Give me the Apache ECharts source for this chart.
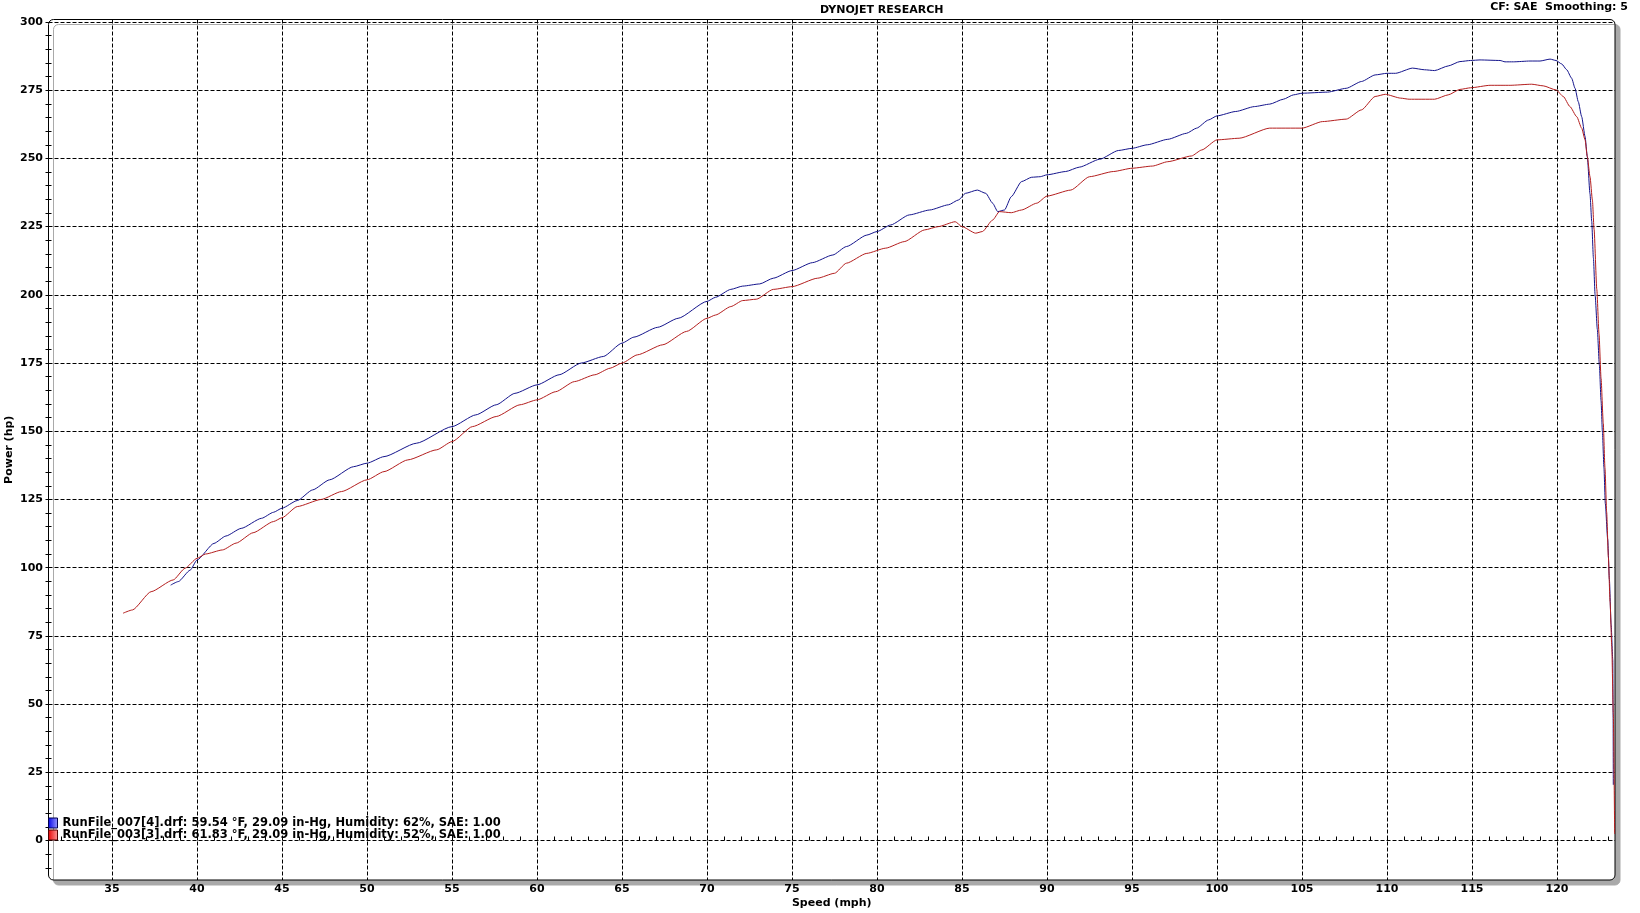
<!DOCTYPE html>
<html>
<head>
<meta charset="utf-8">
<title>Dynojet Research</title>
<script src="https://cdn.jsdelivr.net/npm/echarts@6/dist/echarts.min.js"></script>
<style>
html, body { margin: 0; padding: 0; background: #fff; }
#chart { width: 1640px; height: 913px; }
</style>
</head>
<body>
<div id="chart"></div>
<script>
// run 007 (blue)
var blueSpeed = [38.45, 38.9, 39.6, 40, 41.0, 41.7, 42.6, 43.8, 44.5, 45, 45.9, 46.8, 47.8, 49.2, 50, 51.0, 52.9, 55, 56.4, 57.6,
  58.7, 60, 61.3, 62.6, 63.9, 65, 65.7, 67.1, 68.3, 70, 70.5, 71.4, 72.1, 73.1, 73.9, 75, 76.2, 77.4, 78.2, 79.4,
  80, 80.8, 81.9, 83.1, 84.2, 84.8, 85.2, 85.9, 86.4, 86.8, 87.1, 87.5, 87.9, 88.5, 89.1, 89.6, 90, 91.1, 91.9, 93.1,
  94.2, 95, 95.9, 97.1, 98.2, 98.8, 99.5, 100, 101.1, 102.2, 103.1, 103.9, 104.5, 105, 106.5, 107.6, 108.5, 109.3, 110, 110.5,
  111.5, 112.2, 112.8, 113.6, 114.29, 114.92, 115.47, 116.65, 116.94, 117.43, 118.41, 119.0, 119.59, 119.94, 120.28, 120.57, 120.86, 121.06, 121.25, 121.45,
  121.65, 121.78, 121.94, 122.04, 122.14, 122.24, 122.37, 122.49, 122.59, 122.67, 122.76, 122.84, 122.98, 123.08, 123.18, 123.28, 123.3, 123.31];
var bluePower = [93.6, 94.9, 99.1, 102.8, 108.9, 111.6, 114.4, 118.1, 120.3, 121.8, 124.6, 128.5, 132.2, 137.0, 138.3, 140.7, 145.6, 151.7, 156.0, 159.7,
  163.9, 167, 170.7, 175, 177.4, 182.3, 184.5, 188.1, 191.4, 197.6, 199.1, 202.0, 203.2, 204.0, 206.1, 208.9, 211.8, 214.6, 217.7, 221.9,
  223.2, 225.6, 229.3, 231.1, 233.0, 234.8, 237.2, 238.4, 237.2, 233.6, 230.5, 231.1, 236.0, 241.5, 243.1, 243.3, 244.0, 245.2, 246.8, 249.7,
  252.9, 253.7, 255.0, 257.0, 259.2, 261.1, 264.1, 265.6, 267.2, 269.0, 269.9, 271.7, 273.3, 273.9, 274.3, 275.7, 278.2, 280.6, 281.2, 281.2,
  283.1, 282.5, 282.2, 283.9, 285.5, 285.9, 286.1, 285.9, 285.4, 285.4, 285.7, 285.7, 286.4, 285.9, 284.6, 282.5, 279.4, 275.7, 270.8, 265.3,
  258.0, 250.7, 237, 227, 213.5, 200, 187.4, 174.3, 161.2, 149.7, 136.6, 123.5, 110.4, 95.7, 79.3, 66.2, 45, 20.4];

// run 003 (red)
var redSpeed = [35.65, 36.2, 37.3, 38.6, 39.3, 40.0, 40.5, 41.5, 42.3, 43.3, 44.5, 45, 45.9, 47.3, 48.5, 50, 51.0, 52.4, 54.1, 55,
  56.2, 57.6, 59.0, 60, 61.1, 62.2, 63.4, 64.3, 65, 65.9, 67.4, 68.8, 70, 70.5, 71.4, 72.1, 72.9, 73.9, 75, 76.5,
  77.5, 78.2, 79.4, 80.5, 81.6, 82.8, 83.6, 84.6, 85, 85.8, 86.2, 86.8, 87.2, 87.9, 88.5, 89.4, 90, 91.4, 92.5, 93.9,
  95, 96.2, 97.1, 98.5, 99.1, 100, 101.3, 103.1, 105, 106.2, 107.6, 108.5, 109.3, 109.9, 110.8, 111.3, 112.8, 113.6, 114.29, 114.92,
  116.06, 117.24, 118.51, 119.19, 119.94, 120.37, 120.76, 121.16, 121.45, 121.65, 121.78, 121.94, 122.08, 122.18, 122.34, 122.47, 122.59, 122.72, 122.82, 122.92,
  123.02, 123.12, 123.22, 123.31, 123.39];
var redPower = [83.3, 84.5, 91.2, 95.5, 99.8, 103.4, 105, 106.5, 109, 112.8, 116.9, 118.3, 122.4, 125, 127.9, 132.2, 135.2, 139.5, 143.2, 146.2,
  151.7, 155.4, 159.7, 161.5, 164.5, 168.2, 170.7, 173.1, 175, 178, 181.7, 186.6, 191.4, 192.6, 195.7, 197.9, 198.4, 202.0, 203.0, 206.1,
  207.9, 211.6, 215.2, 217.1, 219.5, 223.8, 225.0, 226.8, 225.0, 222.6, 223.2, 227.4, 230.5, 230.1, 231.1, 233.6, 236.2, 238.4, 243.3, 245.2,
  246.4, 247.2, 248.8, 250.9, 253.1, 256.8, 257.4, 261.1, 261.1, 263.5, 264.4, 267.8, 272.7, 273.5, 272.1, 271.7, 271.7, 273.3, 275.3, 275.9,
  276.8, 276.8, 277.2, 276.6, 275.1, 272.7, 269.0, 265.3, 261.1, 256.8, 250.7, 243.3, 234.8, 224, 202, 185.7, 169.4, 153.0, 136.6, 120.3,
  103.9, 87.5, 71.1, 46.6, 2.4];

var speedLabels = [35, 40, 45, 50, 55, 60, 65, 70, 75, 80, 85, 90, 95, 100, 105, 110, 115, 120];
var speedMinor = [32, 33, 34, 35, 36, 37, 38, 39, 40, 41, 42, 43, 44, 45, 46, 47, 48, 49, 50, 51, 52, 53, 54, 55, 56, 57, 58, 59, 60, 61,
  62, 63, 64, 65, 66, 67, 68, 69, 70, 71, 72, 73, 74, 75, 76, 77, 78, 79, 80, 81, 82, 83, 84, 85, 86, 87, 88, 89, 90, 91,
  92, 93, 94, 95, 96, 97, 98, 99, 100, 101, 102, 103, 104, 105, 106, 107, 108, 109, 110, 111, 112, 113, 114, 115, 116, 117, 118, 119, 120, 121, 122, 123];
var powerLabels = [0, 25, 50, 75, 100, 125, 150, 175, 200, 225, 250, 275, 300];
var powerMinor = [-10, -5, 0, 5, 10, 15, 20, 25, 30, 35, 40, 45, 50, 55, 60, 65, 70, 75, 80, 85, 90, 95, 100, 105, 110, 115, 120, 125, 130, 135,
  140, 145, 150, 155, 160, 165, 170, 175, 180, 185, 190, 195, 200, 205, 210, 215, 220, 225, 230, 235, 240, 245, 250, 255, 260, 265, 270, 275, 280, 285, 290, 295, 300];

var blueName = 'RunFile_007[4].drf: 59.54 °F, 29.09 in-Hg, Humidity: 62%, SAE: 1.00';
var redName = 'RunFile_003[3].drf: 61.83 °F, 29.09 in-Hg, Humidity: 52%, SAE: 1.00';

function pairs(xs, ys) {
  var out = [];
  for (var i = 0; i < xs.length; i++) out.push([xs[i], ys[i]]);
  return out;
}

var FONT = 'DejaVu Sans';
var xMin = 31.265, xMax = 123.41;
var yMin = -14.48, yMax = 300.92;
var gridLine = { show: true, lineStyle: { color: '#000', width: 1, type: [4, 2] } };
var labelFont = { fontFamily: FONT, fontWeight: 'bold', fontSize: 11, color: '#000' };

var myChart = echarts.init(document.getElementById('chart'));
var option = {
  animation: false,
  backgroundColor: '#fff',
  grid: { left: 48.5, top: 19.5, right: 25, bottom: 33, containLabel: false, outerBoundsMode: 'none' },
  graphic: [
    {
      type: 'rect', z: -10, silent: true,
      shape: { x: 48.5, y: 19.5, width: 1566.5, height: 860.5, r: 5 },
      style: { fill: '#fff', stroke: '#000', lineWidth: 1, shadowColor: '#a9a9a9', shadowOffsetX: 5, shadowOffsetY: 5, shadowBlur: 0 }
    },
    {
      type: 'text', left: 820, top: 5,
      style: { text: 'DYNOJET RESEARCH', fontFamily: FONT, fontWeight: 'bold', fontSize: 11, fill: '#000', textAlign: 'center' }
    },
    {
      type: 'text', right: 12, top: 2,
      style: { text: 'CF: SAE  Smoothing: 5', fontFamily: FONT, fontWeight: 'bold', fontSize: 11, fill: '#000' }
    }
  ],
  legend: {
    orient: 'vertical', left: 48, top: 816, padding: 0, itemGap: -2,
    itemWidth: 9, itemHeight: 10, icon: 'rect',
    textStyle: { fontFamily: FONT, fontWeight: 'bold', fontSize: 11.5, color: '#000', lineHeight: 14 },
    data: [
      { name: blueName, itemStyle: { color: new echarts.graphic.LinearGradient(0, 0, 1, 0, [{ offset: 0, color: '#0000e6' }, { offset: 1, color: '#9c9cff' }]), borderColor: '#000050', borderWidth: 1 } },
      { name: redName, itemStyle: { color: new echarts.graphic.LinearGradient(0, 0, 1, 0, [{ offset: 0, color: '#e60000' }, { offset: 1, color: '#ff9c9c' }]), borderColor: '#500000', borderWidth: 1 } }
    ]
  },
  xAxis: [
    {
      type: 'value', min: xMin, max: xMax,
      axisLine: { show: false },
      axisTick: { show: false, customValues: speedLabels },
      axisLabel: Object.assign({ customValues: speedLabels, margin: 4 }, labelFont),
      splitLine: gridLine,
      name: 'Speed (mph)', nameLocation: 'middle', nameGap: 18, nameMoveOverlap: false,
      nameTextStyle: labelFont
    },
    {
      type: 'value', min: xMin, max: xMax, position: 'bottom',
      axisLine: { show: false }, axisLabel: { show: false }, splitLine: { show: false },
      axisTick: { show: true, inside: true, length: 4, customValues: speedMinor, lineStyle: { color: '#000' } }
    }
  ],
  yAxis: [
    {
      type: 'value', min: yMin, max: yMax,
      axisLine: { show: false },
      axisTick: { show: false, customValues: powerLabels },
      axisLabel: Object.assign({ customValues: powerLabels, margin: 5.5 }, labelFont),
      splitLine: gridLine,
      name: 'Power (hp)', nameLocation: 'middle', nameGap: 34, nameMoveOverlap: false,
      nameTextStyle: labelFont
    },
    {
      type: 'value', min: yMin, max: yMax, position: 'left',
      axisLine: { show: false }, axisLabel: { show: false }, splitLine: { show: false },
      axisTick: { show: true, inside: false, length: 3, customValues: powerMinor, lineStyle: { color: '#000' } }
    },
    {
      type: 'value', min: yMin, max: yMax, position: 'left',
      axisLine: { show: false }, axisLabel: { show: false }, splitLine: { show: false },
      axisTick: { show: true, inside: true, length: 3, customValues: powerMinor, lineStyle: { color: '#000' } }
    }
  ],
  series: [
    {
      name: blueName, type: 'line', data: pairs(blueSpeed, bluePower),
      showSymbol: false, smooth: 0.2, smoothMonotone: 'x',
      lineStyle: { color: '#14148c', width: 1 }, itemStyle: { color: '#14148c' }, z: 3
    },
    {
      name: redName, type: 'line', data: pairs(redSpeed, redPower),
      showSymbol: false, smooth: 0.2, smoothMonotone: 'x',
      lineStyle: { color: '#b41e1e', width: 1 }, itemStyle: { color: '#b41e1e' }, z: 4
    }
  ]
};
myChart.setOption(option);
</script>
</body>
</html>
